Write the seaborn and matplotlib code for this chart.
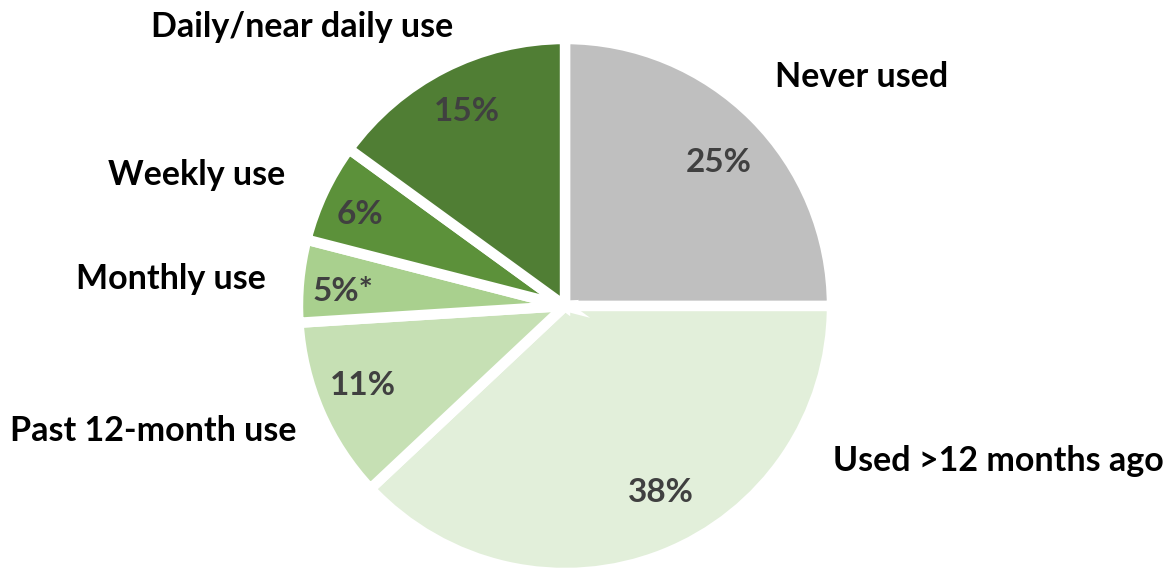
import matplotlib
matplotlib.use("Agg")
import matplotlib.pyplot as plt
import seaborn as sns

# Frequency of use, in percent (clockwise from 12 o'clock)
categories = ["Never used", "Used >12 months ago", "Past 12-month use",
              "Monthly use", "Weekly use", "Daily/near daily use"]
shares = [25, 38, 11, 5, 6, 15]
pct_labels = ["25%", "38%", "11%", "5%*", "6%", "15%"]
colors = ["#BFBFBF", "#E2EFDA", "#C6E0B4", "#A9D08E", "#5C913A", "#507E34"]

# Where each category name sits (figure fraction)
label_pos = {
    "Never used": (0.735, 0.864),
    "Used >12 months ago": (0.852, 0.189),
    "Past 12-month use": (0.131, 0.241),
    "Monthly use": (0.146, 0.509),
    "Weekly use": (0.168, 0.692),
    "Daily/near daily use": (0.258, 0.952),
}
# Percentage labels inside the wedges (pie data units, radius = 1)
pct_pos = [(0.577, 0.539), (0.360, -0.700), (-0.757, -0.296),
           (-0.831, 0.056), (-0.768, 0.341), (-0.367, 0.727)]

sns.set_theme(style="white")
plt.rcParams["font.family"] = ["Lato", "DejaVu Sans"]

W, H, DPI = 1172, 568, 100
fig = plt.figure(figsize=(W / DPI, H / DPI), dpi=DPI)

# Pie centre and radius in pixels
cx, cy, R = 565, 306, 267
ax = fig.add_axes([(cx - R) / W, (H - cy - R) / H, 2 * R / W, 2 * R / H])

wedges, texts = ax.pie(
    shares,
    colors=colors,
    startangle=90,
    counterclock=False,
    radius=1.0,
    wedgeprops=dict(edgecolor="white", linewidth=7.5),
    labels=pct_labels,
    labeldistance=0.8,
    textprops=dict(color="#404040", fontsize=24, fontweight="bold",
                   ha="center", va="center"),
)
for t, pos in zip(texts, pct_pos):
    t.set_position(pos)
    t.set_horizontalalignment("center")
    t.set_verticalalignment("center")

ax.set_xlim(-1, 1)
ax.set_ylim(-1, 1)
ax.set_aspect("equal")
ax.axis("off")

for name in categories:
    x, y = label_pos[name]
    fig.text(x, y, name, ha="center", va="center", fontsize=24.5,
             fontweight="bold", color="black")

fig.savefig("out.png", dpi=DPI)
